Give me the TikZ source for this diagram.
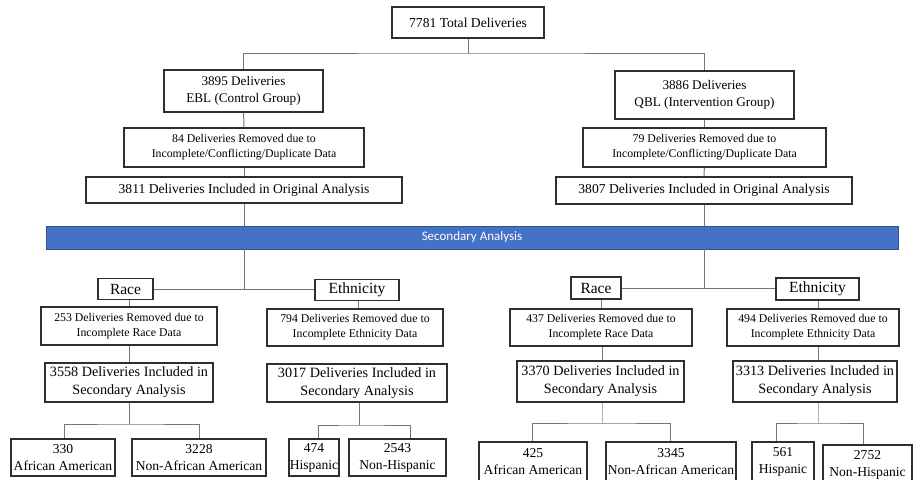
\documentclass[tikz,border=0pt]{standalone}
\usepackage{fontspec}
\setmainfont{Liberation Serif}
\newfontfamily\barfont{Carlito}
\definecolor{boxline}{HTML}{2E2E2E}
\definecolor{conn}{HTML}{767676}
\definecolor{connlight}{HTML}{A9B4C8}
\definecolor{barblue}{HTML}{4472C4}
\definecolor{barline}{HTML}{2F528F}
\begin{document}
\begin{tikzpicture}[x=1pt,y=-1pt,
  box/.style={draw=boxline,line width=1.1pt,fill=white,inner sep=0pt,align=center,
    font=\fontsize{13.6}{17}\selectfont},
  smallbox/.style={box,font=\fontsize{11.8}{15}\selectfont},
  midbox/.style={box,font=\fontsize{14.2}{18}\selectfont},
  catbox/.style={box,font=\fontsize{15.5}{18}\selectfont},
  wire/.style={draw=conn,line width=1pt},
  wirelight/.style={draw=connlight,line width=1pt}]
\useasboundingbox (0,0) rectangle (915,479);
% top
\node[box,minimum width=152pt,minimum height=31pt] (total) at (468,22.5) {7781 Total Deliveries};
\node[box,minimum width=159pt,minimum height=42pt,font=\fontsize{13.2}{17}\selectfont] (ebl) at (243.5,91) {3895 Deliveries\\EBL (Control Group)};
\node[smallbox,minimum width=240pt,minimum height=39pt] (rem1) at (244,147.5) {84 Deliveries Removed due to\\Incomplete/Conflicting/Duplicate Data};
\node[box,minimum width=316pt,minimum height=26pt] (inc1) at (244,190) {3811 Deliveries Included in Original Analysis};
\node[box,minimum width=179pt,minimum height=48pt,font=\fontsize{13.2}{17}\selectfont] (qbl) at (704.5,95) {3886 Deliveries\\QBL (Intervention Group)};
\node[smallbox,minimum width=243pt,minimum height=39pt] (rem2) at (704.5,147.5) {79 Deliveries Removed due to\\Incomplete/Conflicting/Duplicate Data};
\node[box,minimum width=296pt,minimum height=27pt] (inc2) at (704,190.5) {3807 Deliveries Included in Original Analysis};
% bar
\node[draw=barline,fill=barblue,line width=0.8pt,minimum width=852pt,minimum height=23pt,inner sep=0pt,
  text=white,font=\barfont\fontsize{13}{15}\selectfont] (bar) at (472,237.5) {Secondary Analysis};
% connectors top
\coordinate (split) at (468,53);
\draw[wire] (total.south) -- (split);
\draw[wire] (ebl.north) |- (split) -| (qbl.north);
\draw[wire] (ebl) -- (rem1);
\draw[wire] (rem1) -- (inc1);
\draw[wire] (inc1.south) -- (inc1.south |- bar.north);
\draw[wire] (qbl) -- (rem2);
\draw[wire] (rem2) -- (inc2);
\draw[wire] (inc2.south) -- (inc2.south |- bar.north);
% bottom left
\node[catbox,minimum width=55pt,minimum height=21pt] (raceL) at (125.5,289) {Race};
\node[catbox,minimum width=84pt,minimum height=21pt] (ethL) at (357,290) {Ethnicity};
\node[smallbox,minimum width=176pt,minimum height=38pt] (remRL) at (129,326) {253 Deliveries Removed due to\\Incomplete Race Data};
\node[midbox,minimum width=168pt,minimum height=39pt] (incRL) at (129,382.5) {3558 Deliveries Included in\\Secondary Analysis};
\node[box,minimum width=104pt,minimum height=37pt] (aaL) at (63,457.5) {330\\African American};
\node[box,minimum width=134pt,minimum height=37pt] (naaL) at (199,457.5) {3228\\Non-African American};
\node[smallbox,minimum width=176pt,minimum height=37pt] (remEL) at (355,327.5) {794 Deliveries Removed due to\\Incomplete Ethnicity Data};
\node[midbox,minimum width=180pt,minimum height=38pt] (incEL) at (357,383) {3017 Deliveries Included in\\Secondary Analysis};
\node[box,minimum width=50pt,minimum height=37pt] (hL) at (314,457.5) {474\\Hispanic};
\node[box,minimum width=97pt,minimum height=37pt] (nhL) at (397.5,457.5) {2543\\Non-Hispanic};
\coordinate (jL) at (244,289);
\draw[wire] (bar.south -| jL) -- (jL);
\draw[wire] (raceL.east) -- (ethL.west |- raceL.east);
\draw[wire] (raceL.south -| remRL.north) -- (remRL.north);
\draw[wire] (remRL) -- (incRL);
\coordinate (kL1) at (129,424);
\draw[wire] (incRL.south) -- (kL1);
\draw[wire] (aaL.north -| 64,0) |- (kL1) -| (naaL.north);
\draw[wire] (ethL.south -| 358,0) -- (remEL.north -| 358,0);
\coordinate (kL2) at (359,425);
\draw[wire] (incEL.south -| kL2) -- (kL2);
\draw[wire] (hL.north -| 318,0) |- (kL2) -| (nhL.north -| 410,0);
% bottom right
\node[catbox,minimum width=50pt,minimum height=22pt] (raceR) at (596,288) {Race};
\node[catbox,minimum width=83pt,minimum height=22pt] (ethR) at (817.5,289) {Ethnicity};
\node[smallbox,minimum width=182pt,minimum height=37pt] (remRR) at (601,327.5) {437 Deliveries Removed due to\\Incomplete Race Data};
\node[midbox,minimum width=167pt,minimum height=41pt] (incRR) at (600.5,381.5) {3370 Deliveries Included in\\Secondary Analysis};
\node[box,minimum width=108pt,minimum height=40pt] (aaR) at (533,462) {425\\African American};
\node[box,minimum width=130pt,minimum height=40pt] (naaR) at (671,462) {3345\\Non-African American};
\node[smallbox,minimum width=172pt,minimum height=37pt] (remER) at (813,327.5) {494 Deliveries Removed due to\\Incomplete Ethnicity Data};
\node[midbox,minimum width=164pt,minimum height=41pt] (incER) at (815,381.5) {3313 Deliveries Included in\\Secondary Analysis};
\node[box,minimum width=62pt,minimum height=40pt] (hR) at (783,462) {561\\Hispanic};
\node[box,minimum width=89pt,minimum height=40pt] (nhR) at (867.5,465) {2752\\Non-Hispanic};
\coordinate (jR) at (704,288);
\draw[wire] (bar.south -| jR) -- (jR);
\draw[wire] (raceR.east) -- (ethR.west |- raceR.east);
\draw[wire] (raceR.south -| 601,0) -- (remRR.north);
\draw[wire] (remRR.south -| 602,0) -- (incRR.north -| 602,0);
\coordinate (kR1) at (602,423);
\draw[wirelight] (incRR.south -| kR1) -- (kR1);
\draw[wire] (aaR.north -| 532,0) |- (kR1) -| (naaR.north -| 670,0);
\draw[wire] (ethR.south -| 818,0) -- (remER.north -| 818,0);
\draw[wire] (remER.south -| 818,0) -- (incER.north -| 818,0);
\coordinate (kR2) at (818,423);
\draw[wirelight] (incER.south -| kR2) -- (kR2);
\draw[wire] (hR.north -| 776,0) |- (kR2) -| (nhR.north -| 863,0);
\end{tikzpicture}
\end{document}
